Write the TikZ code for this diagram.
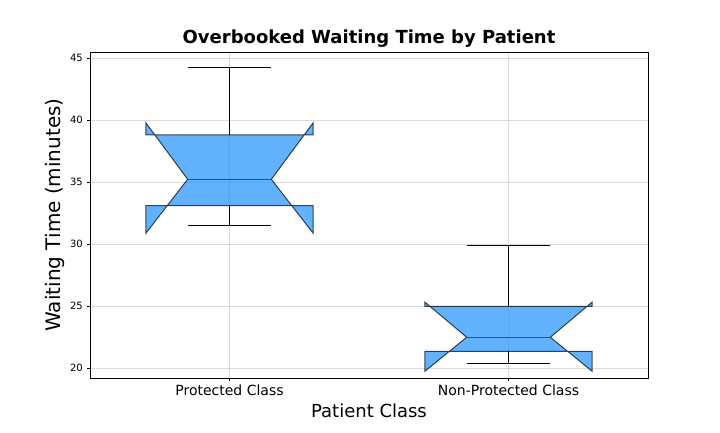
\documentclass[tikz,border=0pt]{standalone}
\usepackage{fontspec}
\setmainfont{DejaVu Sans}
\definecolor{boxblue}{HTML}{1E90FF}
\tikzset{
	gridline/.style={black!14, line width=0.8pt},
	whisker/.style={black, line width=1pt},
	notchbox/.style={fill=boxblue, fill opacity=0.7, draw=black, draw opacity=0.7, line width=1pt},
	medianline/.style={red, line width=1pt},
	ticklab/.style={inner sep=0pt, font=\fontsize{10}{12}\selectfont},
	catlab/.style={inner sep=0pt, font=\fontsize{14}{16}\selectfont},
}
\begin{document}
\begin{tikzpicture}[x=279pt, y=12.4pt]
	\useasboundingbox (0.17742,14.8387) rectangle (2.75806,49.6774);

	%grid and y ticks
	\foreach \y in {20,25,...,45}{
		\draw[gridline] (0.5,\y) -- (2.5,\y);
		\draw (0.5,\y) -- ++(-3.5pt,0) node[ticklab, left=3.5pt] (ytick\y) {\y};
	}
	\foreach \p in {1,2}{
		\draw[gridline] (\p,19.194) -- (\p,45.484);
	}

	%boxes: position/q1/median/q3/notch low/notch high/whisker low/whisker high
	\foreach \p/\qa/\md/\qc/\na/\nb/\wa/\wb in {1/33.09/35.22/38.81/30.86/39.78/31.53/44.25, 2/21.35/22.48/24.97/19.73/25.32/20.38/29.84}{
		\draw[whisker] (\p,\qc) -- (\p,\wb);
		\draw[whisker] (\p,\qa) -- (\p,\wa);
		\draw[whisker] (\p-0.15,\wb) -- (\p+0.15,\wb);
		\draw[whisker] (\p-0.15,\wa) -- (\p+0.15,\wa);
		\draw[notchbox] (\p-0.3,\qa) -- (\p+0.3,\qa) -- (\p+0.3,\na) -- (\p+0.15,\md) -- (\p+0.3,\nb) -- (\p+0.3,\qc)
			-- (\p-0.3,\qc) -- (\p-0.3,\nb) -- (\p-0.15,\md) -- (\p-0.3,\na) -- cycle;
		\draw[medianline] (\p-0.15,\md) -- (\p+0.15,\md);
	}

	%frame
	\draw[line width=0.8pt] (0.5,19.194) rectangle (2.5,45.484);

	%x ticks
	\draw (1,19.194) -- ++(0,-3.5pt) node[catlab, below=3.5pt] (xtick1) {Protected Class};
	\draw (2,19.194) -- ++(0,-3.5pt) node[catlab, below=3.5pt] (xtick2) {Non-Protected Class};

	%labels
	\node[font=\fontsize{18}{21}\selectfont\bfseries, anchor=base, inner sep=0pt] (title) at (1.5,46.19) {Overbooked Waiting Time by Patient};
	\node[font=\fontsize{20}{24}\selectfont, rotate=90] (ylabel) at (0.3746,32.34) {Waiting Time (minutes)};
	\node[font=\fontsize{18}{21}\selectfont] (xlabel) at (1.5,16.53) {Patient Class};

\end{tikzpicture}
\end{document}
